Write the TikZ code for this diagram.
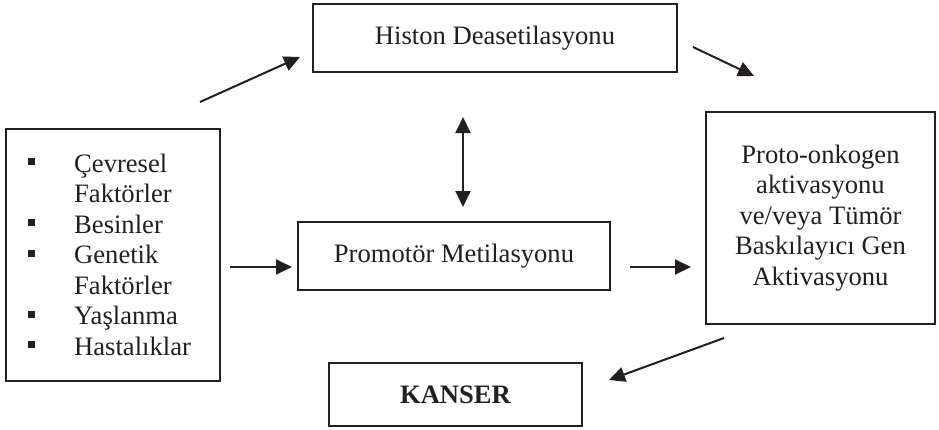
\documentclass[tikz,border=0pt]{standalone}
\usepackage{fontspec}
\setmainfont{Liberation Serif}
\usetikzlibrary{arrows.meta}
\definecolor{ink}{RGB}{35,31,32}
\newcommand\sqbullet{\makebox[46pt][l]{\rule[7pt]{7pt}{7pt}}}
\newcommand\sqspace{\hspace*{46pt}}
\begin{document}
\begin{tikzpicture}[x=1pt,y=-1pt,
  font=\fontsize{26.6}{30.5}\selectfont,
  box/.style={draw=ink, line width=2pt, inner sep=0pt, align=center, text=ink},
  arr/.style={draw=ink, line width=2pt, -{Triangle[length=16pt,width=15pt]}},
  dblarr/.style={draw=ink, line width=2pt, {Triangle[length=16pt,width=15pt]}-{Triangle[length=16pt,width=15pt]}}]
\useasboundingbox (0,0) rectangle (939,429);
% boxes
\node[box, minimum width=364pt, minimum height=68pt] (histon) at (495,38) {Histon Deasetilasyonu};
\node[box, minimum width=312pt, minimum height=68pt] (promotor) at (454,256) {Promotör Metilasyonu};
\node[box, minimum width=253pt, minimum height=63pt] (kanser) at (455.5,394.5) {\bfseries KANSER};
\node[box, minimum width=229pt, minimum height=212pt] (proto) at (820.5,218)
  {Proto-onkogen\\aktivasyonu\\ve/veya Tümör\\Baskılayıcı Gen\\Aktivasyonu};
\node[box, minimum width=214pt, minimum height=252pt, anchor=north west] (factors) at (5,128) {};
\node[anchor=base west, inner sep=0pt, text=ink] (factorlist) at (28,172)
  {\begin{tabular}[t]{@{}l@{}}
   \sqbullet Çevresel\\
   \sqspace Faktörler\\
   \sqbullet Besinler\\
   \sqbullet Genetik\\
   \sqspace Faktörler\\
   \sqbullet Yaşlanma\\
   \sqbullet Hastalıklar
   \end{tabular}};
% arrow ends
\coordinate (a1s) at (200,102);
\coordinate (a1e) at (300,57);
\coordinate (a2s) at (230,267);
\coordinate (a3s) at (630,267);
\coordinate (a4s) at (693,47);
\coordinate (a4e) at (754,76);
\coordinate (a5s) at (463,117);
\coordinate (a5e) at (463,207);
\coordinate (a6s) at (724,338);
\coordinate (a6e) at (609,380);
% connectors
\draw[arr] (a1s) -- (a1e);
\draw[arr, shorten >=5pt] (a2s) -- (promotor.west |- a2s);
\draw[arr, shorten >=14pt] (a3s) -- (proto.west |- a3s);
\draw[arr] (a4s) -- (a4e);
\draw[dblarr] (a5s) -- (a5e);
\draw[arr] (a6s) -- (a6e);
\end{tikzpicture}
\end{document}
